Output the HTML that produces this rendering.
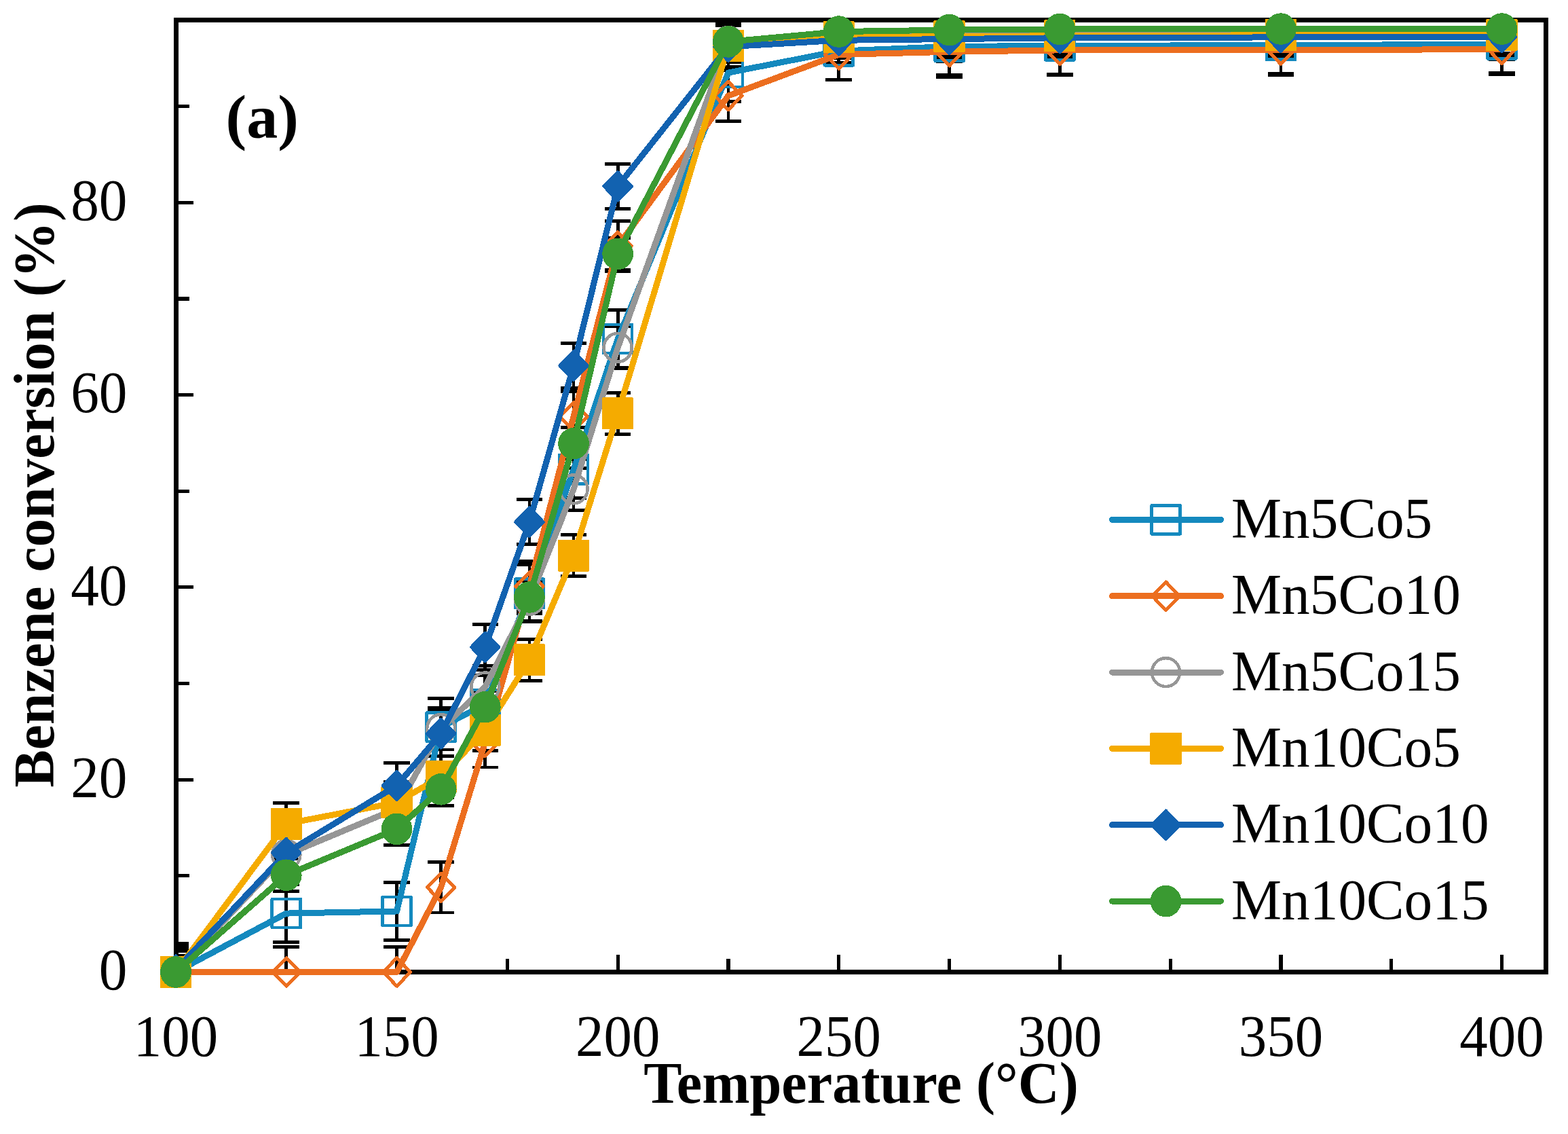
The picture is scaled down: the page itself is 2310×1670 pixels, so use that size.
<!DOCTYPE html>
<html lang="en">
<head>
<meta charset="utf-8">
<title>Benzene conversion vs temperature</title>
<style>
html,body{margin:0;padding:0;background:#fff;}
body{width:2310px;height:1670px;overflow:hidden;}
svg{display:block;}
text{font-family:"Liberation Serif","Times New Roman",Times,serif;fill:#000;}
.t{font-size:83.33px;}
.b{font-size:84.4px;font-weight:bold;}
</style>
</head>
<body>
<svg shape-rendering="crispEdges" width="2310" height="1670" viewBox="0 0 2310 1670">
<rect x="0" y="0" width="2310" height="1670" fill="#ffffff"/>

<rect x="259.5" y="29.5" width="2018.0" height="1402.0" fill="none" stroke="#000" stroke-width="7"/>
<g stroke="#000" stroke-width="5.2" fill="none">
<line x1="258.98" y1="1428.0" x2="258.98" y2="1406.0"/>
<line x1="421.77" y1="1428.0" x2="421.77" y2="1412.0"/>
<line x1="584.57" y1="1428.0" x2="584.57" y2="1406.0"/>
<line x1="747.36" y1="1428.0" x2="747.36" y2="1412.0"/>
<line x1="910.15" y1="1428.0" x2="910.15" y2="1406.0"/>
<line x1="1072.94" y1="1428.0" x2="1072.94" y2="1412.0"/>
<line x1="1235.74" y1="1428.0" x2="1235.74" y2="1406.0"/>
<line x1="1398.53" y1="1428.0" x2="1398.53" y2="1412.0"/>
<line x1="1561.32" y1="1428.0" x2="1561.32" y2="1406.0"/>
<line x1="1724.11" y1="1428.0" x2="1724.11" y2="1412.0"/>
<line x1="1886.90" y1="1428.0" x2="1886.90" y2="1406.0"/>
<line x1="2049.70" y1="1428.0" x2="2049.70" y2="1412.0"/>
<line x1="2212.49" y1="1428.0" x2="2212.49" y2="1406.0"/>
<line x1="263.0" y1="1431.50" x2="285.0" y2="1431.50"/>
<line x1="263.0" y1="1289.85" x2="279.0" y2="1289.85"/>
<line x1="263.0" y1="1148.19" x2="285.0" y2="1148.19"/>
<line x1="263.0" y1="1006.54" x2="279.0" y2="1006.54"/>
<line x1="263.0" y1="864.88" x2="285.0" y2="864.88"/>
<line x1="263.0" y1="723.23" x2="279.0" y2="723.23"/>
<line x1="263.0" y1="581.57" x2="285.0" y2="581.57"/>
<line x1="263.0" y1="439.91" x2="279.0" y2="439.91"/>
<line x1="263.0" y1="298.26" x2="285.0" y2="298.26"/>
<line x1="263.0" y1="156.61" x2="279.0" y2="156.61"/>
</g>
<clipPath id="pc"><rect x="259.5" y="29.5" width="2018.0" height="1402.0"/></clipPath>
<g stroke="#000" stroke-width="4.8" fill="none" clip-path="url(#pc)">
<path d="M258.98 1389.29V1473.71M239.68 1389.29H278.28M239.68 1473.71H278.28M258.98 1394.39V1468.61M239.68 1394.39H278.28M239.68 1468.61H278.28M258.98 1400.62V1462.38M239.68 1400.62H278.28M239.68 1462.38H278.28M258.98 1400.90V1462.10M239.68 1400.90H278.28M239.68 1462.10H278.28M258.98 1395.24V1461.53M239.68 1395.24H278.28M239.68 1461.53H278.28M258.98 1407.70V1455.30M239.68 1407.70H278.28M239.68 1455.30H278.28"/>
<path d="M421.77 1302.88V1387.30M402.47 1302.88H441.07M402.47 1387.30H441.07M421.77 1394.39V1468.61M402.47 1394.39H441.07M402.47 1468.61H441.07M421.77 1227.80V1289.56M402.47 1227.80H441.07M402.47 1289.56H441.07M421.77 1182.61V1243.81M402.47 1182.61H441.07M402.47 1243.81H441.07M421.77 1222.84V1289.14M402.47 1222.84H441.07M402.47 1289.14H441.07M421.77 1264.91V1312.51M402.47 1264.91H441.07M402.47 1312.51H441.07"/>
<path d="M584.57 1299.76V1384.19M565.27 1299.76H603.87M565.27 1384.19H603.87M584.57 1394.39V1468.61M565.27 1394.39H603.87M565.27 1468.61H603.87M584.57 1159.81V1221.57M565.27 1159.81H603.87M565.27 1221.57H603.87M584.57 1151.16V1212.36M565.27 1151.16H603.87M565.27 1212.36H603.87M584.57 1123.83V1190.12M565.27 1123.83H603.87M565.27 1190.12H603.87M584.57 1197.06V1244.66M565.27 1197.06H603.87M565.27 1244.66H603.87"/>
<path d="M649.68 1028.63V1113.06M630.38 1028.63H668.98M630.38 1113.06H668.98M649.68 1269.73V1343.96M630.38 1269.73H668.98M630.38 1343.96H668.98M649.68 1042.23V1103.99M630.38 1042.23H668.98M630.38 1103.99H668.98M649.68 1113.34V1174.54M630.38 1113.34H668.98M630.38 1174.54H668.98M649.68 1047.05V1113.34M630.38 1047.05H668.98M630.38 1113.34H668.98M649.68 1138.56V1186.15M630.38 1138.56H668.98M630.38 1186.15H668.98"/>
<path d="M714.80 994.78V1079.20M695.50 994.78H734.10M695.50 1079.20H734.10M714.80 1055.83V1130.06M695.50 1055.83H734.10M695.50 1130.06H734.10M714.80 980.61V1042.37M695.50 980.61H734.10M695.50 1042.37H734.10M714.80 1044.64V1105.84M695.50 1044.64H734.10M695.50 1105.84H734.10M714.80 919.84V986.14M695.50 919.84H734.10M695.50 986.14H734.10M714.80 1017.44V1065.04M695.50 1017.44H734.10M695.50 1065.04H734.10"/>
<path d="M779.92 831.59V916.02M760.62 831.59H799.22M760.62 916.02H799.22M779.92 826.35V900.58M760.62 826.35H799.22M760.62 900.58H799.22M779.92 852.98V914.74M760.62 852.98H799.22M760.62 914.74H799.22M779.92 941.37V1002.57M760.62 941.37H799.22M760.62 1002.57H799.22M779.92 735.55V801.84M760.62 735.55H799.22M760.62 801.84H799.22M779.92 855.67V903.27M760.62 855.67H799.22M760.62 903.27H799.22"/>
<path d="M845.03 649.14V733.57M825.73 649.14H864.33M825.73 733.57H864.33M845.03 576.19V650.41M825.73 576.19H864.33M825.73 650.41H864.33M845.03 689.51V751.27M825.73 689.51H864.33M825.73 751.27H864.33M845.03 787.54V848.73M825.73 787.54H864.33M825.73 848.73H864.33M845.03 505.36V571.65M825.73 505.36H864.33M825.73 571.65H864.33M845.03 629.45V677.05M825.73 629.45H864.33M825.73 677.05H864.33"/>
<path d="M910.15 456.77V541.20M890.85 456.77H929.45M890.85 541.20H929.45M910.15 325.32V399.54M890.85 325.32H929.45M890.85 399.54H929.45M910.15 480.99V542.76M890.85 480.99H929.45M890.85 542.76H929.45M910.15 578.31V639.51M890.85 578.31H929.45M890.85 639.51H929.45M910.15 241.17V307.47M890.85 241.17H929.45M890.85 307.47H929.45M910.15 350.11V397.70M890.85 350.11H929.45M890.85 397.70H929.45"/>
<path d="M1072.94 64.81V149.24M1053.64 64.81H1092.24M1053.64 149.24H1092.24M1072.94 103.91V178.14M1053.64 103.91H1092.24M1053.64 178.14H1092.24M1072.94 30.11V91.87M1053.64 30.11H1092.24M1053.64 91.87H1092.24M1072.94 37.19V98.38M1053.64 37.19H1092.24M1053.64 98.38H1092.24M1072.94 35.63V101.93M1053.64 35.63H1092.24M1053.64 101.93H1092.24M1072.94 37.61V85.21M1053.64 37.61H1092.24M1053.64 85.21H1092.24"/>
<path d="M1235.74 32.94V117.37M1216.44 32.94H1255.04M1216.44 117.37H1255.04M1235.74 43.28V117.51M1216.44 43.28H1255.04M1216.44 117.51H1255.04M1235.74 19.48V81.24M1216.44 19.48H1255.04M1216.44 81.24H1255.04M1235.74 24.16V85.35M1216.44 24.16H1255.04M1216.44 85.35H1255.04M1235.74 26.14V92.44M1216.44 26.14H1255.04M1216.44 92.44H1255.04M1235.74 22.74V70.34M1216.44 22.74H1255.04M1216.44 70.34H1255.04"/>
<path d="M1398.53 26.28V110.71M1379.23 26.28H1417.83M1379.23 110.71H1417.83M1398.53 39.17V113.40M1379.23 39.17H1417.83M1379.23 113.40H1417.83M1398.53 18.07V79.83M1379.23 18.07H1417.83M1379.23 79.83H1417.83M1398.53 23.02V84.22M1379.23 23.02H1417.83M1379.23 84.22H1417.83M1398.53 24.44V90.74M1379.23 24.44H1417.83M1379.23 90.74H1417.83M1398.53 20.33V67.93M1379.23 20.33H1417.83M1379.23 67.93H1417.83"/>
<path d="M1561.32 25.15V109.58M1542.02 25.15H1580.62M1542.02 109.58H1580.62M1561.32 36.76V110.99M1542.02 36.76H1580.62M1542.02 110.99H1580.62M1561.32 17.36V79.12M1542.02 17.36H1580.62M1542.02 79.12H1580.62M1561.32 22.17V83.37M1542.02 22.17H1580.62M1542.02 83.37H1580.62M1561.32 22.60V88.89M1542.02 22.60H1580.62M1542.02 88.89H1580.62M1561.32 19.20V66.80M1542.02 19.20H1580.62M1542.02 66.80H1580.62"/>
<path d="M1886.90 24.44V108.87M1867.61 24.44H1906.20M1867.61 108.87H1906.20M1886.90 36.62V110.85M1867.61 36.62H1906.20M1867.61 110.85H1906.20M1886.90 16.65V78.41M1867.61 16.65H1906.20M1867.61 78.41H1906.20M1886.90 21.18V82.38M1867.61 21.18H1906.20M1867.61 82.38H1906.20M1886.90 21.75V88.04M1867.61 21.75H1906.20M1867.61 88.04H1906.20M1886.90 18.77V66.37M1867.61 18.77H1906.20M1867.61 66.37H1906.20"/>
<path d="M2212.49 23.02V107.45M2193.19 23.02H2231.79M2193.19 107.45H2231.79M2212.49 35.49V109.72M2193.19 35.49H2231.79M2193.19 109.72H2231.79M2212.49 16.65V78.41M2193.19 16.65H2231.79M2193.19 78.41H2231.79M2212.49 21.18V82.38M2193.19 21.18H2231.79M2193.19 82.38H2231.79M2212.49 21.47V87.76M2193.19 21.47H2231.79M2193.19 87.76H2231.79M2212.49 18.77V66.37M2193.19 18.77H2231.79M2193.19 66.37H2231.79"/>
<path d="M1053.64 34.2H1092.24"/>
</g>
<g>
<polyline points="258.98,1431.50 421.77,1345.09 584.57,1341.97 649.68,1070.85 714.80,1036.99 779.92,873.80 845.03,691.35 910.15,498.99 1072.94,107.03 1235.74,75.15 1398.53,68.50 1561.32,67.36 1886.90,66.65 2212.49,65.24" fill="none" stroke="#1489be" stroke-width="9.0" stroke-linejoin="round" stroke-linecap="round"/>
<rect x="237.98" y="1410.40" width="42.00" height="42.20" fill="none" stroke="#1489be" stroke-width="4.6" stroke-linejoin="round"/>
<rect x="400.77" y="1323.99" width="42.00" height="42.20" fill="none" stroke="#1489be" stroke-width="4.6" stroke-linejoin="round"/>
<rect x="563.57" y="1320.87" width="42.00" height="42.20" fill="none" stroke="#1489be" stroke-width="4.6" stroke-linejoin="round"/>
<rect x="628.68" y="1049.75" width="42.00" height="42.20" fill="none" stroke="#1489be" stroke-width="4.6" stroke-linejoin="round"/>
<rect x="693.80" y="1015.89" width="42.00" height="42.20" fill="none" stroke="#1489be" stroke-width="4.6" stroke-linejoin="round"/>
<rect x="758.92" y="852.70" width="42.00" height="42.20" fill="none" stroke="#1489be" stroke-width="4.6" stroke-linejoin="round"/>
<rect x="824.03" y="670.25" width="42.00" height="42.20" fill="none" stroke="#1489be" stroke-width="4.6" stroke-linejoin="round"/>
<rect x="889.15" y="477.89" width="42.00" height="42.20" fill="none" stroke="#1489be" stroke-width="4.6" stroke-linejoin="round"/>
<rect x="1051.94" y="85.93" width="42.00" height="42.20" fill="none" stroke="#1489be" stroke-width="4.6" stroke-linejoin="round"/>
<rect x="1214.74" y="54.05" width="42.00" height="42.20" fill="none" stroke="#1489be" stroke-width="4.6" stroke-linejoin="round"/>
<rect x="1377.53" y="47.40" width="42.00" height="42.20" fill="none" stroke="#1489be" stroke-width="4.6" stroke-linejoin="round"/>
<rect x="1540.32" y="46.26" width="42.00" height="42.20" fill="none" stroke="#1489be" stroke-width="4.6" stroke-linejoin="round"/>
<rect x="1865.90" y="45.55" width="42.00" height="42.20" fill="none" stroke="#1489be" stroke-width="4.6" stroke-linejoin="round"/>
<rect x="2191.49" y="44.14" width="42.00" height="42.20" fill="none" stroke="#1489be" stroke-width="4.6" stroke-linejoin="round"/>
</g>
<g>
<polyline points="258.98,1431.50 421.77,1431.50 584.57,1431.50 649.68,1306.84 714.80,1092.94 779.92,863.46 845.03,613.30 910.15,362.43 1072.94,141.02 1235.74,80.39 1398.53,76.29 1561.32,73.88 1886.90,73.74 2212.49,72.60" fill="none" stroke="#ec6e1f" stroke-width="9.0" stroke-linejoin="round" stroke-linecap="round"/>
<path d="M258.98 1410.80L279.18 1431.50L258.98 1452.20L238.78 1431.50Z" fill="none" stroke="#ec6e1f" stroke-width="5" stroke-linejoin="round"/>
<path d="M421.77 1410.80L441.97 1431.50L421.77 1452.20L401.57 1431.50Z" fill="none" stroke="#ec6e1f" stroke-width="5" stroke-linejoin="round"/>
<path d="M584.57 1410.80L604.77 1431.50L584.57 1452.20L564.37 1431.50Z" fill="none" stroke="#ec6e1f" stroke-width="5" stroke-linejoin="round"/>
<path d="M649.68 1286.14L669.88 1306.84L649.68 1327.54L629.48 1306.84Z" fill="none" stroke="#ec6e1f" stroke-width="5" stroke-linejoin="round"/>
<path d="M714.80 1072.24L735.00 1092.94L714.80 1113.64L694.60 1092.94Z" fill="none" stroke="#ec6e1f" stroke-width="5" stroke-linejoin="round"/>
<path d="M779.92 842.76L800.12 863.46L779.92 884.16L759.72 863.46Z" fill="none" stroke="#ec6e1f" stroke-width="5" stroke-linejoin="round"/>
<path d="M845.03 592.60L865.23 613.30L845.03 634.00L824.83 613.30Z" fill="none" stroke="#ec6e1f" stroke-width="5" stroke-linejoin="round"/>
<path d="M910.15 341.73L930.35 362.43L910.15 383.13L889.95 362.43Z" fill="none" stroke="#ec6e1f" stroke-width="5" stroke-linejoin="round"/>
<path d="M1072.94 120.32L1093.14 141.02L1072.94 161.72L1052.74 141.02Z" fill="none" stroke="#ec6e1f" stroke-width="5" stroke-linejoin="round"/>
<path d="M1235.74 59.69L1255.94 80.39L1235.74 101.09L1215.54 80.39Z" fill="none" stroke="#ec6e1f" stroke-width="5" stroke-linejoin="round"/>
<path d="M1398.53 55.59L1418.73 76.29L1398.53 96.99L1378.33 76.29Z" fill="none" stroke="#ec6e1f" stroke-width="5" stroke-linejoin="round"/>
<path d="M1561.32 53.18L1581.52 73.88L1561.32 94.58L1541.12 73.88Z" fill="none" stroke="#ec6e1f" stroke-width="5" stroke-linejoin="round"/>
<path d="M1886.90 53.04L1907.11 73.74L1886.90 94.44L1866.70 73.74Z" fill="none" stroke="#ec6e1f" stroke-width="5" stroke-linejoin="round"/>
<path d="M2212.49 51.90L2232.69 72.60L2212.49 93.30L2192.29 72.60Z" fill="none" stroke="#ec6e1f" stroke-width="5" stroke-linejoin="round"/>
</g>
<g>
<polyline points="258.98,1431.50 421.77,1258.68 584.57,1190.69 649.68,1073.11 714.80,1011.49 779.92,883.86 845.03,720.39 910.15,511.88 1072.94,60.99 1235.74,50.36 1398.53,48.95 1561.32,48.24 1886.90,47.53 2212.49,47.53" fill="none" stroke="#969696" stroke-width="9.0" stroke-linejoin="round" stroke-linecap="round"/>
<ellipse cx="258.98" cy="1431.50" rx="20.55" ry="20.95" fill="none" stroke="#969696" stroke-width="4.6"/>
<ellipse cx="421.77" cy="1258.68" rx="20.55" ry="20.95" fill="none" stroke="#969696" stroke-width="4.6"/>
<ellipse cx="584.57" cy="1190.69" rx="20.55" ry="20.95" fill="none" stroke="#969696" stroke-width="4.6"/>
<ellipse cx="649.68" cy="1073.11" rx="20.55" ry="20.95" fill="none" stroke="#969696" stroke-width="4.6"/>
<ellipse cx="714.80" cy="1011.49" rx="20.55" ry="20.95" fill="none" stroke="#969696" stroke-width="4.6"/>
<ellipse cx="779.92" cy="883.86" rx="20.55" ry="20.95" fill="none" stroke="#969696" stroke-width="4.6"/>
<ellipse cx="845.03" cy="720.39" rx="20.55" ry="20.95" fill="none" stroke="#969696" stroke-width="4.6"/>
<ellipse cx="910.15" cy="511.88" rx="20.55" ry="20.95" fill="none" stroke="#969696" stroke-width="4.6"/>
<ellipse cx="1072.94" cy="60.99" rx="20.55" ry="20.95" fill="none" stroke="#969696" stroke-width="4.6"/>
<ellipse cx="1235.74" cy="50.36" rx="20.55" ry="20.95" fill="none" stroke="#969696" stroke-width="4.6"/>
<ellipse cx="1398.53" cy="48.95" rx="20.55" ry="20.95" fill="none" stroke="#969696" stroke-width="4.6"/>
<ellipse cx="1561.32" cy="48.24" rx="20.55" ry="20.95" fill="none" stroke="#969696" stroke-width="4.6"/>
<ellipse cx="1886.90" cy="47.53" rx="20.55" ry="20.95" fill="none" stroke="#969696" stroke-width="4.6"/>
<ellipse cx="2212.49" cy="47.53" rx="20.55" ry="20.95" fill="none" stroke="#969696" stroke-width="4.6"/>
</g>
<g>
<polyline points="258.98,1431.50 421.77,1213.21 584.57,1181.76 649.68,1143.94 714.80,1075.24 779.92,971.97 845.03,818.13 910.15,608.91 1072.94,67.79 1235.74,54.76 1398.53,53.62 1561.32,52.77 1886.90,51.78 2212.49,51.78" fill="none" stroke="#f5ab00" stroke-width="9.0" stroke-linejoin="round" stroke-linecap="round"/>
<rect x="235.83" y="1408.00" width="46.3" height="47" rx="1.2" fill="#f5ab00"/>
<rect x="398.62" y="1189.71" width="46.3" height="47" rx="1.2" fill="#f5ab00"/>
<rect x="561.42" y="1158.26" width="46.3" height="47" rx="1.2" fill="#f5ab00"/>
<rect x="626.53" y="1120.44" width="46.3" height="47" rx="1.2" fill="#f5ab00"/>
<rect x="691.65" y="1051.74" width="46.3" height="47" rx="1.2" fill="#f5ab00"/>
<rect x="756.77" y="948.47" width="46.3" height="47" rx="1.2" fill="#f5ab00"/>
<rect x="821.88" y="794.63" width="46.3" height="47" rx="1.2" fill="#f5ab00"/>
<rect x="887.00" y="585.41" width="46.3" height="47" rx="1.2" fill="#f5ab00"/>
<rect x="1049.79" y="44.29" width="46.3" height="47" rx="1.2" fill="#f5ab00"/>
<rect x="1212.59" y="31.26" width="46.3" height="47" rx="1.2" fill="#f5ab00"/>
<rect x="1375.38" y="30.12" width="46.3" height="47" rx="1.2" fill="#f5ab00"/>
<rect x="1538.17" y="29.27" width="46.3" height="47" rx="1.2" fill="#f5ab00"/>
<rect x="1863.75" y="28.28" width="46.3" height="47" rx="1.2" fill="#f5ab00"/>
<rect x="2189.34" y="28.28" width="46.3" height="47" rx="1.2" fill="#f5ab00"/>
</g>
<g>
<polyline points="258.98,1428.38 421.77,1255.99 584.57,1156.97 649.68,1080.20 714.80,952.99 779.92,768.70 845.03,538.51 910.15,274.32 1072.94,68.78 1235.74,59.29 1398.53,57.59 1561.32,55.75 1886.90,54.90 2212.49,54.61" fill="none" stroke="#1262b0" stroke-width="9.0" stroke-linejoin="round" stroke-linecap="round"/>
<path d="M258.98 1407.68L279.18 1428.38L258.98 1449.08L238.78 1428.38Z" fill="#1262b0" stroke="#1262b0" stroke-width="5" stroke-linejoin="round"/>
<path d="M421.77 1235.29L441.97 1255.99L421.77 1276.69L401.57 1255.99Z" fill="#1262b0" stroke="#1262b0" stroke-width="5" stroke-linejoin="round"/>
<path d="M584.57 1136.27L604.77 1156.97L584.57 1177.67L564.37 1156.97Z" fill="#1262b0" stroke="#1262b0" stroke-width="5" stroke-linejoin="round"/>
<path d="M649.68 1059.50L669.88 1080.20L649.68 1100.90L629.48 1080.20Z" fill="#1262b0" stroke="#1262b0" stroke-width="5" stroke-linejoin="round"/>
<path d="M714.80 932.29L735.00 952.99L714.80 973.69L694.60 952.99Z" fill="#1262b0" stroke="#1262b0" stroke-width="5" stroke-linejoin="round"/>
<path d="M779.92 748.00L800.12 768.70L779.92 789.40L759.72 768.70Z" fill="#1262b0" stroke="#1262b0" stroke-width="5" stroke-linejoin="round"/>
<path d="M845.03 517.81L865.23 538.51L845.03 559.21L824.83 538.51Z" fill="#1262b0" stroke="#1262b0" stroke-width="5" stroke-linejoin="round"/>
<path d="M910.15 253.62L930.35 274.32L910.15 295.02L889.95 274.32Z" fill="#1262b0" stroke="#1262b0" stroke-width="5" stroke-linejoin="round"/>
<path d="M1072.94 48.08L1093.14 68.78L1072.94 89.48L1052.74 68.78Z" fill="#1262b0" stroke="#1262b0" stroke-width="5" stroke-linejoin="round"/>
<path d="M1235.74 38.59L1255.94 59.29L1235.74 79.99L1215.54 59.29Z" fill="#1262b0" stroke="#1262b0" stroke-width="5" stroke-linejoin="round"/>
<path d="M1398.53 36.89L1418.73 57.59L1398.53 78.29L1378.33 57.59Z" fill="#1262b0" stroke="#1262b0" stroke-width="5" stroke-linejoin="round"/>
<path d="M1561.32 35.05L1581.52 55.75L1561.32 76.45L1541.12 55.75Z" fill="#1262b0" stroke="#1262b0" stroke-width="5" stroke-linejoin="round"/>
<path d="M1886.90 34.20L1907.11 54.90L1886.90 75.60L1866.70 54.90Z" fill="#1262b0" stroke="#1262b0" stroke-width="5" stroke-linejoin="round"/>
<path d="M2212.49 33.91L2232.69 54.61L2212.49 75.31L2192.29 54.61Z" fill="#1262b0" stroke="#1262b0" stroke-width="5" stroke-linejoin="round"/>
</g>
<g>
<polyline points="258.98,1431.50 421.77,1288.71 584.57,1220.86 649.68,1162.36 714.80,1041.24 779.92,879.47 845.03,653.25 910.15,373.90 1072.94,61.41 1235.74,46.54 1398.53,44.13 1561.32,43.00 1886.90,42.57 2212.49,42.57" fill="none" stroke="#3a9a32" stroke-width="9.0" stroke-linejoin="round" stroke-linecap="round"/>
<ellipse cx="258.98" cy="1431.50" rx="20.55" ry="20.95" fill="#3a9a32" stroke="#3a9a32" stroke-width="4.6"/>
<ellipse cx="421.77" cy="1288.71" rx="20.55" ry="20.95" fill="#3a9a32" stroke="#3a9a32" stroke-width="4.6"/>
<ellipse cx="584.57" cy="1220.86" rx="20.55" ry="20.95" fill="#3a9a32" stroke="#3a9a32" stroke-width="4.6"/>
<ellipse cx="649.68" cy="1162.36" rx="20.55" ry="20.95" fill="#3a9a32" stroke="#3a9a32" stroke-width="4.6"/>
<ellipse cx="714.80" cy="1041.24" rx="20.55" ry="20.95" fill="#3a9a32" stroke="#3a9a32" stroke-width="4.6"/>
<ellipse cx="779.92" cy="879.47" rx="20.55" ry="20.95" fill="#3a9a32" stroke="#3a9a32" stroke-width="4.6"/>
<ellipse cx="845.03" cy="653.25" rx="20.55" ry="20.95" fill="#3a9a32" stroke="#3a9a32" stroke-width="4.6"/>
<ellipse cx="910.15" cy="373.90" rx="20.55" ry="20.95" fill="#3a9a32" stroke="#3a9a32" stroke-width="4.6"/>
<ellipse cx="1072.94" cy="61.41" rx="20.55" ry="20.95" fill="#3a9a32" stroke="#3a9a32" stroke-width="4.6"/>
<ellipse cx="1235.74" cy="46.54" rx="20.55" ry="20.95" fill="#3a9a32" stroke="#3a9a32" stroke-width="4.6"/>
<ellipse cx="1398.53" cy="44.13" rx="20.55" ry="20.95" fill="#3a9a32" stroke="#3a9a32" stroke-width="4.6"/>
<ellipse cx="1561.32" cy="43.00" rx="20.55" ry="20.95" fill="#3a9a32" stroke="#3a9a32" stroke-width="4.6"/>
<ellipse cx="1886.90" cy="42.57" rx="20.55" ry="20.95" fill="#3a9a32" stroke="#3a9a32" stroke-width="4.6"/>
<ellipse cx="2212.49" cy="42.57" rx="20.55" ry="20.95" fill="#3a9a32" stroke="#3a9a32" stroke-width="4.6"/>
</g>
<line x1="1638.5" y1="765.4" x2="1798.5" y2="765.4" stroke="#1489be" stroke-width="9.0" stroke-linecap="round"/>
<rect x="1696.60" y="744.30" width="42.00" height="42.20" fill="none" stroke="#1489be" stroke-width="4.6" stroke-linejoin="round"/>
<text class="t" transform="translate(1814,792.0) scale(1,1.015)">Mn5Co5</text>
<line x1="1638.5" y1="877.8" x2="1798.5" y2="877.8" stroke="#ec6e1f" stroke-width="9.0" stroke-linecap="round"/>
<path d="M1717.60 857.05L1737.80 877.75L1717.60 898.45L1697.40 877.75Z" fill="none" stroke="#ec6e1f" stroke-width="5" stroke-linejoin="round"/>
<text class="t" transform="translate(1814,904.4) scale(1,1.015)">Mn5Co10</text>
<line x1="1638.5" y1="990.1" x2="1798.5" y2="990.1" stroke="#969696" stroke-width="9.0" stroke-linecap="round"/>
<ellipse cx="1717.60" cy="990.10" rx="20.55" ry="20.95" fill="none" stroke="#969696" stroke-width="4.6"/>
<text class="t" transform="translate(1814,1016.7) scale(1,1.015)">Mn5Co15</text>
<line x1="1638.5" y1="1102.4" x2="1798.5" y2="1102.4" stroke="#f5ab00" stroke-width="9.0" stroke-linecap="round"/>
<rect x="1694.45" y="1078.95" width="46.3" height="47" rx="1.2" fill="#f5ab00"/>
<text class="t" transform="translate(1814,1129.0) scale(1,1.015)">Mn10Co5</text>
<line x1="1638.5" y1="1214.8" x2="1798.5" y2="1214.8" stroke="#1262b0" stroke-width="9.0" stroke-linecap="round"/>
<path d="M1717.60 1194.10L1737.80 1214.80L1717.60 1235.50L1697.40 1214.80Z" fill="#1262b0" stroke="#1262b0" stroke-width="5" stroke-linejoin="round"/>
<text class="t" transform="translate(1814,1241.4) scale(1,1.015)">Mn10Co10</text>
<line x1="1638.5" y1="1327.2" x2="1798.5" y2="1327.2" stroke="#3a9a32" stroke-width="9.0" stroke-linecap="round"/>
<ellipse cx="1717.60" cy="1327.15" rx="20.55" ry="20.95" fill="#3a9a32" stroke="#3a9a32" stroke-width="4.6"/>
<text class="t" transform="translate(1814,1353.8) scale(1,1.015)">Mn10Co15</text>
<text class="t" transform="translate(258.98,1554.8) scale(0.995,1.04)" text-anchor="middle">100</text>
<text class="t" transform="translate(584.57,1554.8) scale(0.995,1.04)" text-anchor="middle">150</text>
<text class="t" transform="translate(910.15,1554.8) scale(0.995,1.04)" text-anchor="middle">200</text>
<text class="t" transform="translate(1235.74,1554.8) scale(0.995,1.04)" text-anchor="middle">250</text>
<text class="t" transform="translate(1561.32,1554.8) scale(0.995,1.04)" text-anchor="middle">300</text>
<text class="t" transform="translate(1886.90,1554.8) scale(0.995,1.04)" text-anchor="middle">350</text>
<text class="t" transform="translate(2212.49,1554.8) scale(0.995,1.04)" text-anchor="middle">400</text>
<text class="t" transform="translate(187.5,1457.30) scale(1,1.04)" text-anchor="end">0</text>
<text class="t" transform="translate(187.5,1173.99) scale(1,1.04)" text-anchor="end">20</text>
<text class="t" transform="translate(187.5,890.68) scale(1,1.04)" text-anchor="end">40</text>
<text class="t" transform="translate(187.5,607.37) scale(1,1.04)" text-anchor="end">60</text>
<text class="t" transform="translate(187.5,324.06) scale(1,1.04)" text-anchor="end">80</text>
<text class="b" transform="translate(1268.5,1624) scale(1,1.015)" text-anchor="middle">Temperature (°C)</text>
<text class="b" style="font-size:83.4px" transform="translate(79,729) rotate(-90) scale(1,1.013)" text-anchor="middle">Benzene conversion (%)</text>
<text class="b" style="font-size:92px" x="332.5" y="202.5">(a)</text>
</svg>
</body>
</html>
